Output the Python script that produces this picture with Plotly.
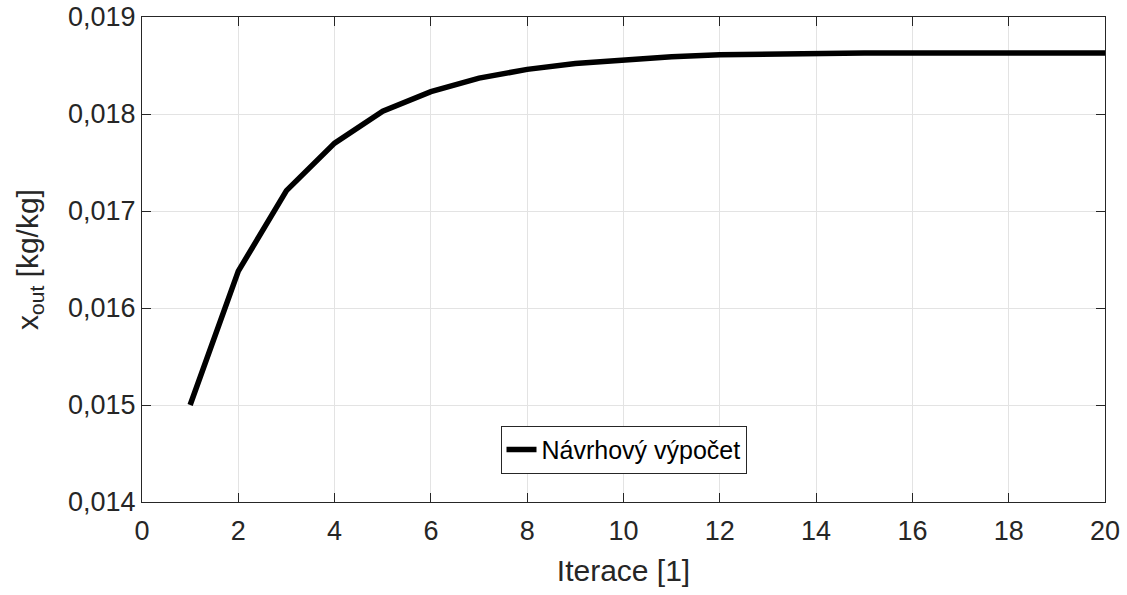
import plotly.graph_objects as go

iterace = list(range(1, 21))
x_out = [0.01500, 0.01638, 0.01721, 0.01770, 0.01803, 0.01823, 0.01837, 0.01846,
         0.01852, 0.01856, 0.01859, 0.01861, 0.01862, 0.018625, 0.01863, 0.01863,
         0.01863, 0.01863, 0.01863, 0.01863]
x_ticks = list(range(0, 21, 2))
y_ticks = [0.014, 0.015, 0.016, 0.017, 0.018, 0.019]

fig = go.Figure()
fig.add_trace(go.Scatter(x=iterace, y=x_out, mode="lines",
                         line=dict(color="black", width=5.5),
                         name="Návrhový výpočet"))

axis_common = dict(showline=True, linecolor="#262626", linewidth=1, mirror="ticks",
                   ticks="inside", ticklen=9, tickcolor="#262626", automargin=False,
                   showgrid=True, gridcolor="#e3e3e3", gridwidth=1, zeroline=False,
                   tickfont=dict(family="Liberation Sans, Arial", size=27, color="#262626"))

fig.update_layout(
    width=1127, height=595,
    margin=dict(l=142, r=22, t=17, b=93),
    plot_bgcolor="white", paper_bgcolor="white",
    separators=",.",
    font=dict(family="Liberation Sans, Arial", color="#262626"),
    xaxis=dict(range=[0, 20], tickvals=x_ticks, ticklabelstandoff=5,
               title=dict(text="Iterace [1]", font=dict(size=30), standoff=14),
               **axis_common),
    yaxis=dict(range=[0.014, 0.019], tickvals=y_ticks, tickformat=".3f",
               title=dict(text="x<sub>out</sub> [kg/kg]", font=dict(size=30), standoff=20),
               **axis_common),
    legend=dict(x=0.5, xanchor="center", y=0.058, yanchor="bottom",
                bordercolor="#262626", borderwidth=1, bgcolor="white",
                font=dict(size=25, color="black")),
    showlegend=True,
)

fig.write_html("out.html")
